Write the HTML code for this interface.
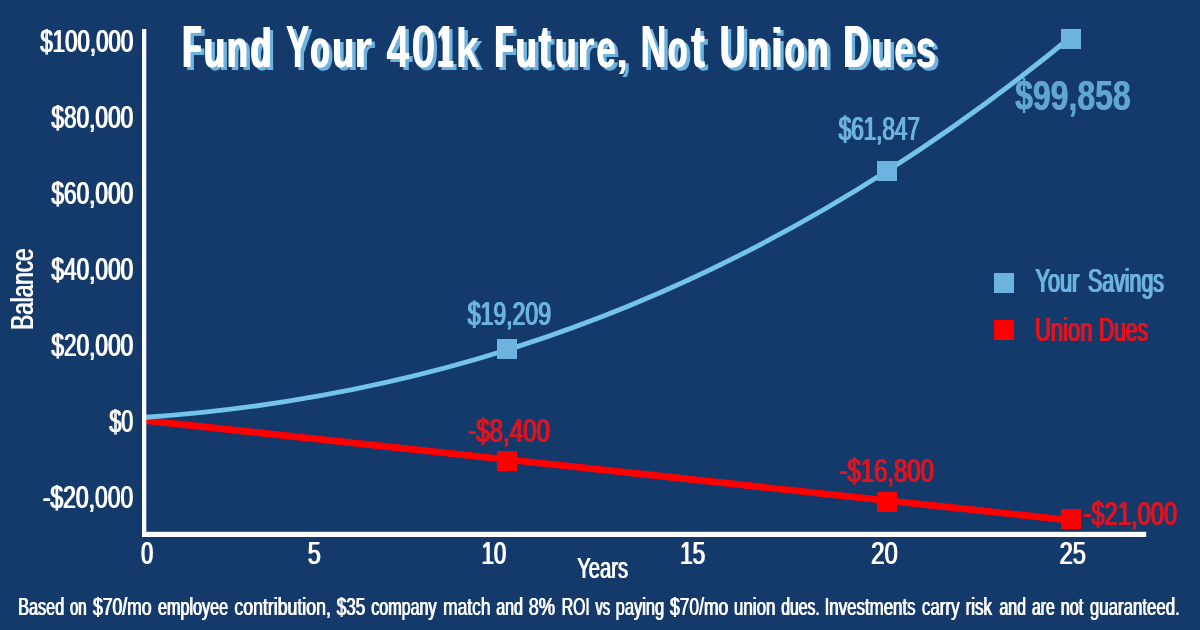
<!DOCTYPE html>
<html><head><meta charset="utf-8"><title>Fund Your 401k Future, Not Union Dues</title>
<style>
html,body{margin:0;padding:0;background:#14396B;}
body{width:1200px;height:630px;overflow:hidden;font-family:"Liberation Sans",sans-serif;}
svg{display:block;will-change:transform;}
text{font-family:"Liberation Sans",sans-serif;}
</style></head><body>
<svg width="1200" height="630" viewBox="0 0 1200 630">
<rect x="0" y="0" width="1200" height="630" fill="#14396B"/>
<!-- series lines -->
<line x1="146" y1="420.6" x2="1071" y2="520.4" stroke="#FF0000" stroke-width="6.8"/>
<path d="M146.0,417.3 C393.0,399.9 640.0,329.2 887.0,171.0 C950.3,130.7 1013.7,84.5 1077.0,32.0" fill="none" stroke="#74C3EB" stroke-width="4.9"/>
<!-- axes -->
<rect x="142" y="29" width="4.3" height="508" fill="#FFFFFF"/>
<rect x="142" y="531.8" width="1004.2" height="5.2" fill="#FFFFFF"/>
<!-- markers -->
<rect x="497.0" y="339.0" width="20" height="20" fill="#6CB3DF"/><rect x="877.0" y="161.0" width="20" height="20" fill="#6CB3DF"/><rect x="1061.0" y="29.0" width="20" height="20" fill="#6CB3DF"/>
<rect x="497.0" y="451.0" width="20" height="20" fill="#FF0000"/><rect x="877.0" y="492.0" width="20" height="20" fill="#FF0000"/><rect x="1061.0" y="509.0" width="20" height="20" fill="#FF0000"/>
<!-- legend markers -->
<rect x="994.0" y="273.0" width="20" height="20" fill="#6CB3DF"/><rect x="994.0" y="320.0" width="20" height="20" fill="#FF0000"/>
<!-- title -->
<text transform="translate(185.26,69.8) scale(0.5008,1)" font-size="58.9" font-weight="bold" fill="#6CB3DF">F</text><text transform="translate(187.65,69.8) scale(0.5008,1)" font-size="58.9" font-weight="bold" fill="#6CB3DF">F</text><text transform="translate(206.46,69.8) scale(0.5927,0.92)" font-size="58.9" font-weight="bold" fill="#6CB3DF">u</text><text transform="translate(208.01,69.8) scale(0.5927,0.92)" font-size="58.9" font-weight="bold" fill="#6CB3DF">u</text><text transform="translate(229.57,69.8) scale(0.5779,0.92)" font-size="58.9" font-weight="bold" fill="#6CB3DF">n</text><text transform="translate(231.25,69.8) scale(0.5779,0.92)" font-size="58.9" font-weight="bold" fill="#6CB3DF">n</text><text transform="translate(253.14,69.8) scale(0.5764,0.955)" font-size="58.9" font-weight="bold" fill="#6CB3DF">d</text><text transform="translate(254.83,69.8) scale(0.5764,0.955)" font-size="58.9" font-weight="bold" fill="#6CB3DF">d</text><text transform="translate(289.15,69.8) scale(0.5924,1)" font-size="58.9" font-weight="bold" fill="#6CB3DF">Y</text><text transform="translate(289.7,69.8) scale(0.5924,1)" font-size="58.9" font-weight="bold" fill="#6CB3DF">Y</text><text transform="translate(313.22,69.8) scale(0.5303,0.92)" font-size="58.9" font-weight="bold" fill="#6CB3DF">o</text><text transform="translate(314.54,69.8) scale(0.5303,0.92)" font-size="58.9" font-weight="bold" fill="#6CB3DF">o</text><text transform="translate(335.04,69.8) scale(0.6026,0.92)" font-size="58.9" font-weight="bold" fill="#6CB3DF">u</text><text transform="translate(336.49,69.8) scale(0.6026,0.92)" font-size="58.9" font-weight="bold" fill="#6CB3DF">u</text><text transform="translate(357.1,69.8) scale(0.8149,0.92)" font-size="58.9" font-weight="bold" fill="#6CB3DF">r</text><text transform="translate(389.7,69.8) scale(0.7063,1)" font-size="58.9" font-weight="bold" fill="#6CB3DF">4</text><text transform="translate(414.53,69.8) scale(0.7431,1)" font-size="58.9" font-weight="bold" fill="#6CB3DF">0</text><text transform="translate(440.1,69.8) scale(0.4346,1)" font-size="58.9" font-weight="bold" fill="#6CB3DF">1</text><text transform="translate(443.1,69.8) scale(0.4346,1)" font-size="58.9" font-weight="bold" fill="#6CB3DF">1</text><text transform="translate(459.02,69.8) scale(0.7267,0.955)" font-size="58.9" font-weight="bold" fill="#6CB3DF">k</text><text transform="translate(497.37,69.8) scale(0.4961,1)" font-size="58.9" font-weight="bold" fill="#6CB3DF">F</text><text transform="translate(499.81,69.8) scale(0.4961,1)" font-size="58.9" font-weight="bold" fill="#6CB3DF">F</text><text transform="translate(518.52,69.8) scale(0.5729,0.92)" font-size="58.9" font-weight="bold" fill="#6CB3DF">u</text><text transform="translate(520.25,69.8) scale(0.5729,0.92)" font-size="58.9" font-weight="bold" fill="#6CB3DF">u</text><text transform="translate(541.4,69.8) scale(0.6618,1.0)" font-size="58.9" font-weight="bold" fill="#6CB3DF">t</text><text transform="translate(542.31,69.8) scale(0.6618,1.0)" font-size="58.9" font-weight="bold" fill="#6CB3DF">t</text><text transform="translate(557.54,69.8) scale(0.6026,0.92)" font-size="58.9" font-weight="bold" fill="#6CB3DF">u</text><text transform="translate(558.99,69.8) scale(0.6026,0.92)" font-size="58.9" font-weight="bold" fill="#6CB3DF">u</text><text transform="translate(580.2,69.8) scale(0.7878,0.92)" font-size="58.9" font-weight="bold" fill="#6CB3DF">r</text><text transform="translate(599.3,69.8) scale(0.5976,0.92)" font-size="58.9" font-weight="bold" fill="#6CB3DF">e</text><text transform="translate(600.0,69.8) scale(0.5976,0.92)" font-size="58.9" font-weight="bold" fill="#6CB3DF">e</text><text transform="translate(619.26,69.8) scale(0.7715,0.75)" font-size="58.9" font-weight="bold" fill="#6CB3DF">,</text><text transform="translate(643.66,69.8) scale(0.6093,1)" font-size="58.9" font-weight="bold" fill="#6CB3DF">N</text><text transform="translate(644.05,69.8) scale(0.6093,1)" font-size="58.9" font-weight="bold" fill="#6CB3DF">N</text><text transform="translate(670.7,69.8) scale(0.5433,0.92)" font-size="58.9" font-weight="bold" fill="#6CB3DF">o</text><text transform="translate(671.9,69.8) scale(0.5433,0.92)" font-size="58.9" font-weight="bold" fill="#6CB3DF">o</text><text transform="translate(694.2,69.8) scale(0.7112,1.0)" font-size="58.9" font-weight="bold" fill="#6CB3DF">t</text><text transform="translate(694.65,69.8) scale(0.7112,1.0)" font-size="58.9" font-weight="bold" fill="#6CB3DF">t</text><text transform="translate(722.56,69.8) scale(0.594,1)" font-size="58.9" font-weight="bold" fill="#6CB3DF">U</text><text transform="translate(724.09,69.8) scale(0.594,1)" font-size="58.9" font-weight="bold" fill="#6CB3DF">U</text><text transform="translate(750.45,69.8) scale(0.5828,0.92)" font-size="58.9" font-weight="bold" fill="#6CB3DF">n</text><text transform="translate(752.09,69.8) scale(0.5828,0.92)" font-size="58.9" font-weight="bold" fill="#6CB3DF">n</text><text transform="translate(773.28,69.8) scale(0.8475,0.955)" font-size="58.9" font-weight="bold" fill="#6CB3DF">i</text><text transform="translate(787.36,69.8) scale(0.565,0.92)" font-size="58.9" font-weight="bold" fill="#6CB3DF">o</text><text transform="translate(788.36,69.8) scale(0.565,0.92)" font-size="58.9" font-weight="bold" fill="#6CB3DF">o</text><text transform="translate(809.48,69.8) scale(0.6026,0.92)" font-size="58.9" font-weight="bold" fill="#6CB3DF">n</text><text transform="translate(810.94,69.8) scale(0.6026,0.92)" font-size="58.9" font-weight="bold" fill="#6CB3DF">n</text><text transform="translate(846.23,69.8) scale(0.5904,1)" font-size="58.9" font-weight="bold" fill="#6CB3DF">D</text><text transform="translate(847.79,69.8) scale(0.5904,1)" font-size="58.9" font-weight="bold" fill="#6CB3DF">D</text><text transform="translate(874.36,69.8) scale(0.5581,0.92)" font-size="58.9" font-weight="bold" fill="#6CB3DF">u</text><text transform="translate(876.22,69.8) scale(0.5581,0.92)" font-size="58.9" font-weight="bold" fill="#6CB3DF">u</text><text transform="translate(897.3,69.8) scale(0.5976,0.92)" font-size="58.9" font-weight="bold" fill="#6CB3DF">e</text><text transform="translate(898.0,69.8) scale(0.5976,0.92)" font-size="58.9" font-weight="bold" fill="#6CB3DF">e</text><text transform="translate(918.95,69.8) scale(0.6261,0.92)" font-size="58.9" font-weight="bold" fill="#6CB3DF">s</text><text transform="translate(919.39,69.8) scale(0.6261,0.92)" font-size="58.9" font-weight="bold" fill="#6CB3DF">s</text>
<text transform="translate(181.86,66.8) scale(0.5008,1)" font-size="58.9" font-weight="bold" fill="#FFFFFF">F</text><text transform="translate(184.25,66.8) scale(0.5008,1)" font-size="58.9" font-weight="bold" fill="#FFFFFF">F</text><text transform="translate(203.06,66.8) scale(0.5927,0.92)" font-size="58.9" font-weight="bold" fill="#FFFFFF">u</text><text transform="translate(204.61,66.8) scale(0.5927,0.92)" font-size="58.9" font-weight="bold" fill="#FFFFFF">u</text><text transform="translate(226.17,66.8) scale(0.5779,0.92)" font-size="58.9" font-weight="bold" fill="#FFFFFF">n</text><text transform="translate(227.85,66.8) scale(0.5779,0.92)" font-size="58.9" font-weight="bold" fill="#FFFFFF">n</text><text transform="translate(249.74,66.8) scale(0.5764,0.955)" font-size="58.9" font-weight="bold" fill="#FFFFFF">d</text><text transform="translate(251.43,66.8) scale(0.5764,0.955)" font-size="58.9" font-weight="bold" fill="#FFFFFF">d</text><text transform="translate(285.75,66.8) scale(0.5924,1)" font-size="58.9" font-weight="bold" fill="#FFFFFF">Y</text><text transform="translate(286.3,66.8) scale(0.5924,1)" font-size="58.9" font-weight="bold" fill="#FFFFFF">Y</text><text transform="translate(309.82,66.8) scale(0.5303,0.92)" font-size="58.9" font-weight="bold" fill="#FFFFFF">o</text><text transform="translate(311.14,66.8) scale(0.5303,0.92)" font-size="58.9" font-weight="bold" fill="#FFFFFF">o</text><text transform="translate(331.64,66.8) scale(0.6026,0.92)" font-size="58.9" font-weight="bold" fill="#FFFFFF">u</text><text transform="translate(333.09,66.8) scale(0.6026,0.92)" font-size="58.9" font-weight="bold" fill="#FFFFFF">u</text><text transform="translate(353.7,66.8) scale(0.8149,0.92)" font-size="58.9" font-weight="bold" fill="#FFFFFF">r</text><text transform="translate(386.3,66.8) scale(0.7063,1)" font-size="58.9" font-weight="bold" fill="#FFFFFF">4</text><text transform="translate(411.13,66.8) scale(0.7431,1)" font-size="58.9" font-weight="bold" fill="#FFFFFF">0</text><text transform="translate(436.7,66.8) scale(0.4346,1)" font-size="58.9" font-weight="bold" fill="#FFFFFF">1</text><text transform="translate(439.7,66.8) scale(0.4346,1)" font-size="58.9" font-weight="bold" fill="#FFFFFF">1</text><text transform="translate(455.62,66.8) scale(0.7267,0.955)" font-size="58.9" font-weight="bold" fill="#FFFFFF">k</text><text transform="translate(493.97,66.8) scale(0.4961,1)" font-size="58.9" font-weight="bold" fill="#FFFFFF">F</text><text transform="translate(496.41,66.8) scale(0.4961,1)" font-size="58.9" font-weight="bold" fill="#FFFFFF">F</text><text transform="translate(515.12,66.8) scale(0.5729,0.92)" font-size="58.9" font-weight="bold" fill="#FFFFFF">u</text><text transform="translate(516.85,66.8) scale(0.5729,0.92)" font-size="58.9" font-weight="bold" fill="#FFFFFF">u</text><text transform="translate(538.0,66.8) scale(0.6618,1.0)" font-size="58.9" font-weight="bold" fill="#FFFFFF">t</text><text transform="translate(538.91,66.8) scale(0.6618,1.0)" font-size="58.9" font-weight="bold" fill="#FFFFFF">t</text><text transform="translate(554.14,66.8) scale(0.6026,0.92)" font-size="58.9" font-weight="bold" fill="#FFFFFF">u</text><text transform="translate(555.59,66.8) scale(0.6026,0.92)" font-size="58.9" font-weight="bold" fill="#FFFFFF">u</text><text transform="translate(576.8,66.8) scale(0.7878,0.92)" font-size="58.9" font-weight="bold" fill="#FFFFFF">r</text><text transform="translate(595.9,66.8) scale(0.5976,0.92)" font-size="58.9" font-weight="bold" fill="#FFFFFF">e</text><text transform="translate(596.6,66.8) scale(0.5976,0.92)" font-size="58.9" font-weight="bold" fill="#FFFFFF">e</text><text transform="translate(615.86,66.8) scale(0.7715,0.75)" font-size="58.9" font-weight="bold" fill="#FFFFFF">,</text><text transform="translate(640.26,66.8) scale(0.6093,1)" font-size="58.9" font-weight="bold" fill="#FFFFFF">N</text><text transform="translate(640.65,66.8) scale(0.6093,1)" font-size="58.9" font-weight="bold" fill="#FFFFFF">N</text><text transform="translate(667.3,66.8) scale(0.5433,0.92)" font-size="58.9" font-weight="bold" fill="#FFFFFF">o</text><text transform="translate(668.5,66.8) scale(0.5433,0.92)" font-size="58.9" font-weight="bold" fill="#FFFFFF">o</text><text transform="translate(690.8,66.8) scale(0.7112,1.0)" font-size="58.9" font-weight="bold" fill="#FFFFFF">t</text><text transform="translate(691.25,66.8) scale(0.7112,1.0)" font-size="58.9" font-weight="bold" fill="#FFFFFF">t</text><text transform="translate(719.16,66.8) scale(0.594,1)" font-size="58.9" font-weight="bold" fill="#FFFFFF">U</text><text transform="translate(720.69,66.8) scale(0.594,1)" font-size="58.9" font-weight="bold" fill="#FFFFFF">U</text><text transform="translate(747.05,66.8) scale(0.5828,0.92)" font-size="58.9" font-weight="bold" fill="#FFFFFF">n</text><text transform="translate(748.69,66.8) scale(0.5828,0.92)" font-size="58.9" font-weight="bold" fill="#FFFFFF">n</text><text transform="translate(769.88,66.8) scale(0.8475,0.955)" font-size="58.9" font-weight="bold" fill="#FFFFFF">i</text><text transform="translate(783.96,66.8) scale(0.565,0.92)" font-size="58.9" font-weight="bold" fill="#FFFFFF">o</text><text transform="translate(784.96,66.8) scale(0.565,0.92)" font-size="58.9" font-weight="bold" fill="#FFFFFF">o</text><text transform="translate(806.08,66.8) scale(0.6026,0.92)" font-size="58.9" font-weight="bold" fill="#FFFFFF">n</text><text transform="translate(807.54,66.8) scale(0.6026,0.92)" font-size="58.9" font-weight="bold" fill="#FFFFFF">n</text><text transform="translate(842.83,66.8) scale(0.5904,1)" font-size="58.9" font-weight="bold" fill="#FFFFFF">D</text><text transform="translate(844.39,66.8) scale(0.5904,1)" font-size="58.9" font-weight="bold" fill="#FFFFFF">D</text><text transform="translate(870.96,66.8) scale(0.5581,0.92)" font-size="58.9" font-weight="bold" fill="#FFFFFF">u</text><text transform="translate(872.82,66.8) scale(0.5581,0.92)" font-size="58.9" font-weight="bold" fill="#FFFFFF">u</text><text transform="translate(893.9,66.8) scale(0.5976,0.92)" font-size="58.9" font-weight="bold" fill="#FFFFFF">e</text><text transform="translate(894.6,66.8) scale(0.5976,0.92)" font-size="58.9" font-weight="bold" fill="#FFFFFF">e</text><text transform="translate(915.55,66.8) scale(0.6261,0.92)" font-size="58.9" font-weight="bold" fill="#FFFFFF">s</text><text transform="translate(915.99,66.8) scale(0.6261,0.92)" font-size="58.9" font-weight="bold" fill="#FFFFFF">s</text>
<!-- labels -->
<text x="39.7" y="52.1" font-size="30.5" fill="#FFFFFF" font-weight="normal" textLength="92.95" lengthAdjust="spacingAndGlyphs">$100,000</text>
<text x="40.9" y="52.1" font-size="30.5" fill="#FFFFFF" font-weight="normal" textLength="92.95" lengthAdjust="spacingAndGlyphs">$100,000</text>
<text x="50.8" y="128.4" font-size="30.5" fill="#FFFFFF" font-weight="normal" textLength="81.86" lengthAdjust="spacingAndGlyphs">$80,000</text>
<text x="52.0" y="128.4" font-size="30.5" fill="#FFFFFF" font-weight="normal" textLength="81.86" lengthAdjust="spacingAndGlyphs">$80,000</text>
<text x="50.8" y="204.2" font-size="30.5" fill="#FFFFFF" font-weight="normal" textLength="81.86" lengthAdjust="spacingAndGlyphs">$60,000</text>
<text x="52.0" y="204.2" font-size="30.5" fill="#FFFFFF" font-weight="normal" textLength="81.86" lengthAdjust="spacingAndGlyphs">$60,000</text>
<text x="50.8" y="280.2" font-size="30.5" fill="#FFFFFF" font-weight="normal" textLength="81.86" lengthAdjust="spacingAndGlyphs">$40,000</text>
<text x="52.0" y="280.2" font-size="30.5" fill="#FFFFFF" font-weight="normal" textLength="81.86" lengthAdjust="spacingAndGlyphs">$40,000</text>
<text x="50.8" y="356.1" font-size="30.5" fill="#FFFFFF" font-weight="normal" textLength="81.86" lengthAdjust="spacingAndGlyphs">$20,000</text>
<text x="52.0" y="356.1" font-size="30.5" fill="#FFFFFF" font-weight="normal" textLength="81.86" lengthAdjust="spacingAndGlyphs">$20,000</text>
<text x="108.7" y="432.1" font-size="30.5" fill="#FFFFFF" font-weight="normal" textLength="23.94" lengthAdjust="spacingAndGlyphs">$0</text>
<text x="109.9" y="432.1" font-size="30.5" fill="#FFFFFF" font-weight="normal" textLength="23.94" lengthAdjust="spacingAndGlyphs">$0</text>
<text x="42.18" y="508.1" font-size="30.5" fill="#FFFFFF" font-weight="normal" textLength="90.49" lengthAdjust="spacingAndGlyphs">-$20,000</text>
<text x="43.38" y="508.1" font-size="30.5" fill="#FFFFFF" font-weight="normal" textLength="90.49" lengthAdjust="spacingAndGlyphs">-$20,000</text>
<text x="140.53" y="564.2" font-size="32.2" fill="#FFFFFF" font-weight="normal" textLength="12.01" lengthAdjust="spacingAndGlyphs">0</text>
<text x="141.72" y="564.2" font-size="32.2" fill="#FFFFFF" font-weight="normal" textLength="12.01" lengthAdjust="spacingAndGlyphs">0</text>
<text x="307.28" y="564.2" font-size="32.2" fill="#FFFFFF" font-weight="normal" textLength="12.86" lengthAdjust="spacingAndGlyphs">5</text>
<text x="308.48" y="564.2" font-size="32.2" fill="#FFFFFF" font-weight="normal" textLength="12.86" lengthAdjust="spacingAndGlyphs">5</text>
<text x="481.02" y="564.2" font-size="32.2" fill="#FFFFFF" font-weight="normal" textLength="24.64" lengthAdjust="spacingAndGlyphs">10</text>
<text x="482.22" y="564.2" font-size="32.2" fill="#FFFFFF" font-weight="normal" textLength="24.64" lengthAdjust="spacingAndGlyphs">10</text>
<text x="679.49" y="564.2" font-size="32.2" fill="#FFFFFF" font-weight="normal" textLength="25.13" lengthAdjust="spacingAndGlyphs">15</text>
<text x="680.69" y="564.2" font-size="32.2" fill="#FFFFFF" font-weight="normal" textLength="25.13" lengthAdjust="spacingAndGlyphs">15</text>
<text x="870.58" y="564.2" font-size="32.2" fill="#FFFFFF" font-weight="normal" textLength="26.62" lengthAdjust="spacingAndGlyphs">20</text>
<text x="871.78" y="564.2" font-size="32.2" fill="#FFFFFF" font-weight="normal" textLength="26.62" lengthAdjust="spacingAndGlyphs">20</text>
<text x="1058.99" y="564.2" font-size="32.2" fill="#FFFFFF" font-weight="normal" textLength="26.37" lengthAdjust="spacingAndGlyphs">25</text>
<text x="1060.19" y="564.2" font-size="32.2" fill="#FFFFFF" font-weight="normal" textLength="26.37" lengthAdjust="spacingAndGlyphs">25</text>
<text x="576.68" y="578.3" font-size="29" fill="#FFFFFF" font-weight="normal" textLength="50.85" lengthAdjust="spacingAndGlyphs">Years</text>
<text x="577.78" y="578.3" font-size="29" fill="#FFFFFF" font-weight="normal" textLength="50.85" lengthAdjust="spacingAndGlyphs">Years</text>
<text x="467.0" y="325.3" font-size="33.5" fill="#6CB3DF" font-weight="normal" textLength="83.33" lengthAdjust="spacingAndGlyphs">$19,209</text>
<text x="467.7" y="325.3" font-size="33.5" fill="#6CB3DF" font-weight="normal" textLength="83.33" lengthAdjust="spacingAndGlyphs">$19,209</text>
<text x="468.4" y="325.3" font-size="33.5" fill="#6CB3DF" font-weight="normal" textLength="83.33" lengthAdjust="spacingAndGlyphs">$19,209</text>
<text x="838.0" y="139.9" font-size="33.5" fill="#6CB3DF" font-weight="normal" textLength="81.21" lengthAdjust="spacingAndGlyphs">$61,847</text>
<text x="838.7" y="139.9" font-size="33.5" fill="#6CB3DF" font-weight="normal" textLength="81.21" lengthAdjust="spacingAndGlyphs">$61,847</text>
<text x="839.4" y="139.9" font-size="33.5" fill="#6CB3DF" font-weight="normal" textLength="81.21" lengthAdjust="spacingAndGlyphs">$61,847</text>
<text x="1014.8" y="109.7" font-size="43" fill="#60A6D2" font-weight="bold" textLength="115.6" lengthAdjust="spacingAndGlyphs">$99,858</text>
<text x="1015.4" y="109.7" font-size="43" fill="#60A6D2" font-weight="bold" textLength="115.6" lengthAdjust="spacingAndGlyphs">$99,858</text>
<text x="467.55" y="442.3" font-size="33.5" fill="#DE1420" font-weight="normal" textLength="81.65" lengthAdjust="spacingAndGlyphs">-$8,400</text>
<text x="468.25" y="442.3" font-size="33.5" fill="#DE1420" font-weight="normal" textLength="81.65" lengthAdjust="spacingAndGlyphs">-$8,400</text>
<text x="468.95" y="442.3" font-size="33.5" fill="#DE1420" font-weight="normal" textLength="81.65" lengthAdjust="spacingAndGlyphs">-$8,400</text>
<text x="838.85" y="482.4" font-size="33.5" fill="#DE1420" font-weight="normal" textLength="94.34" lengthAdjust="spacingAndGlyphs">-$16,800</text>
<text x="839.55" y="482.4" font-size="33.5" fill="#DE1420" font-weight="normal" textLength="94.34" lengthAdjust="spacingAndGlyphs">-$16,800</text>
<text x="840.25" y="482.4" font-size="33.5" fill="#DE1420" font-weight="normal" textLength="94.34" lengthAdjust="spacingAndGlyphs">-$16,800</text>
<text x="1082.76" y="525.2" font-size="33.5" fill="#DE1420" font-weight="normal" textLength="93.63" lengthAdjust="spacingAndGlyphs">-$21,000</text>
<text x="1083.46" y="525.2" font-size="33.5" fill="#DE1420" font-weight="normal" textLength="93.63" lengthAdjust="spacingAndGlyphs">-$21,000</text>
<text x="1084.16" y="525.2" font-size="33.5" fill="#DE1420" font-weight="normal" textLength="93.63" lengthAdjust="spacingAndGlyphs">-$21,000</text>
<text x="1034.66" y="292.4" font-size="32.7" fill="#6CB3DF" font-weight="normal" textLength="43.95" lengthAdjust="spacingAndGlyphs">Your</text>
<text x="1035.41" y="292.4" font-size="32.7" fill="#6CB3DF" font-weight="normal" textLength="43.95" lengthAdjust="spacingAndGlyphs">Your</text>
<text x="1036.16" y="292.4" font-size="32.7" fill="#6CB3DF" font-weight="normal" textLength="43.95" lengthAdjust="spacingAndGlyphs">Your</text>
<text x="1087.33" y="292.4" font-size="32.7" fill="#6CB3DF" font-weight="normal" textLength="75.83" lengthAdjust="spacingAndGlyphs">Savings</text>
<text x="1088.08" y="292.4" font-size="32.7" fill="#6CB3DF" font-weight="normal" textLength="75.83" lengthAdjust="spacingAndGlyphs">Savings</text>
<text x="1088.83" y="292.4" font-size="32.7" fill="#6CB3DF" font-weight="normal" textLength="75.83" lengthAdjust="spacingAndGlyphs">Savings</text>
<text x="1034.22" y="341" font-size="32.7" fill="#DE1420" font-weight="normal" textLength="57.51" lengthAdjust="spacingAndGlyphs">Union</text>
<text x="1034.97" y="341" font-size="32.7" fill="#DE1420" font-weight="normal" textLength="57.51" lengthAdjust="spacingAndGlyphs">Union</text>
<text x="1035.72" y="341" font-size="32.7" fill="#DE1420" font-weight="normal" textLength="57.51" lengthAdjust="spacingAndGlyphs">Union</text>
<text x="1098.37" y="341" font-size="32.7" fill="#DE1420" font-weight="normal" textLength="48.79" lengthAdjust="spacingAndGlyphs">Dues</text>
<text x="1099.12" y="341" font-size="32.7" fill="#DE1420" font-weight="normal" textLength="48.79" lengthAdjust="spacingAndGlyphs">Dues</text>
<text x="1099.87" y="341" font-size="32.7" fill="#DE1420" font-weight="normal" textLength="48.79" lengthAdjust="spacingAndGlyphs">Dues</text>
<text x="17.73" y="615" font-size="24.8" fill="#FFFFFF" font-weight="normal" textLength="46.03" lengthAdjust="spacingAndGlyphs">Based</text>
<text x="18.63" y="615" font-size="24.8" fill="#FFFFFF" font-weight="normal" textLength="46.03" lengthAdjust="spacingAndGlyphs">Based</text>
<text x="69.53" y="615" font-size="24.8" fill="#FFFFFF" font-weight="normal" textLength="16.66" lengthAdjust="spacingAndGlyphs">on</text>
<text x="70.43" y="615" font-size="24.8" fill="#FFFFFF" font-weight="normal" textLength="16.66" lengthAdjust="spacingAndGlyphs">on</text>
<text x="92.5" y="615" font-size="24.8" fill="#FFFFFF" font-weight="normal" textLength="58.56" lengthAdjust="spacingAndGlyphs">$70/mo</text>
<text x="93.4" y="615" font-size="24.8" fill="#FFFFFF" font-weight="normal" textLength="58.56" lengthAdjust="spacingAndGlyphs">$70/mo</text>
<text x="157.49" y="615" font-size="24.8" fill="#FFFFFF" font-weight="normal" textLength="70.26" lengthAdjust="spacingAndGlyphs">employee</text>
<text x="158.39" y="615" font-size="24.8" fill="#FFFFFF" font-weight="normal" textLength="70.26" lengthAdjust="spacingAndGlyphs">employee</text>
<text x="233.95" y="615" font-size="24.8" fill="#FFFFFF" font-weight="normal" textLength="96.48" lengthAdjust="spacingAndGlyphs">contribution,</text>
<text x="234.85" y="615" font-size="24.8" fill="#FFFFFF" font-weight="normal" textLength="96.48" lengthAdjust="spacingAndGlyphs">contribution,</text>
<text x="336.25" y="615" font-size="24.8" fill="#FFFFFF" font-weight="normal" textLength="28.54" lengthAdjust="spacingAndGlyphs">$35</text>
<text x="337.15" y="615" font-size="24.8" fill="#FFFFFF" font-weight="normal" textLength="28.54" lengthAdjust="spacingAndGlyphs">$35</text>
<text x="370.75" y="615" font-size="24.8" fill="#FFFFFF" font-weight="normal" textLength="65.35" lengthAdjust="spacingAndGlyphs">company</text>
<text x="371.65" y="615" font-size="24.8" fill="#FFFFFF" font-weight="normal" textLength="65.35" lengthAdjust="spacingAndGlyphs">company</text>
<text x="442.66" y="615" font-size="24.8" fill="#FFFFFF" font-weight="normal" textLength="47.42" lengthAdjust="spacingAndGlyphs">match</text>
<text x="443.56" y="615" font-size="24.8" fill="#FFFFFF" font-weight="normal" textLength="47.42" lengthAdjust="spacingAndGlyphs">match</text>
<text x="495.75" y="615" font-size="24.8" fill="#FFFFFF" font-weight="normal" textLength="26.75" lengthAdjust="spacingAndGlyphs">and</text>
<text x="496.65" y="615" font-size="24.8" fill="#FFFFFF" font-weight="normal" textLength="26.75" lengthAdjust="spacingAndGlyphs">and</text>
<text x="528.18" y="615" font-size="24.8" fill="#FFFFFF" font-weight="normal" textLength="26.47" lengthAdjust="spacingAndGlyphs">8%</text>
<text x="529.08" y="615" font-size="24.8" fill="#FFFFFF" font-weight="normal" textLength="26.47" lengthAdjust="spacingAndGlyphs">8%</text>
<text x="561.27" y="615" font-size="24.8" fill="#FFFFFF" font-weight="normal" textLength="28.0" lengthAdjust="spacingAndGlyphs">ROI</text>
<text x="562.17" y="615" font-size="24.8" fill="#FFFFFF" font-weight="normal" textLength="28.0" lengthAdjust="spacingAndGlyphs">ROI</text>
<text x="595.0" y="615" font-size="24.8" fill="#FFFFFF" font-weight="normal" textLength="14.55" lengthAdjust="spacingAndGlyphs">vs</text>
<text x="595.9" y="615" font-size="24.8" fill="#FFFFFF" font-weight="normal" textLength="14.55" lengthAdjust="spacingAndGlyphs">vs</text>
<text x="615.22" y="615" font-size="24.8" fill="#FFFFFF" font-weight="normal" textLength="48.56" lengthAdjust="spacingAndGlyphs">paying</text>
<text x="616.12" y="615" font-size="24.8" fill="#FFFFFF" font-weight="normal" textLength="48.56" lengthAdjust="spacingAndGlyphs">paying</text>
<text x="669.5" y="615" font-size="24.8" fill="#FFFFFF" font-weight="normal" textLength="58.31" lengthAdjust="spacingAndGlyphs">$70/mo</text>
<text x="670.4" y="615" font-size="24.8" fill="#FFFFFF" font-weight="normal" textLength="58.31" lengthAdjust="spacingAndGlyphs">$70/mo</text>
<text x="733.44" y="615" font-size="24.8" fill="#FFFFFF" font-weight="normal" textLength="41.62" lengthAdjust="spacingAndGlyphs">union</text>
<text x="734.34" y="615" font-size="24.8" fill="#FFFFFF" font-weight="normal" textLength="41.62" lengthAdjust="spacingAndGlyphs">union</text>
<text x="780.76" y="615" font-size="24.8" fill="#FFFFFF" font-weight="normal" textLength="38.51" lengthAdjust="spacingAndGlyphs">dues.</text>
<text x="781.66" y="615" font-size="24.8" fill="#FFFFFF" font-weight="normal" textLength="38.51" lengthAdjust="spacingAndGlyphs">dues.</text>
<text x="824.18" y="615" font-size="24.8" fill="#FFFFFF" font-weight="normal" textLength="90.95" lengthAdjust="spacingAndGlyphs">Investments</text>
<text x="825.08" y="615" font-size="24.8" fill="#FFFFFF" font-weight="normal" textLength="90.95" lengthAdjust="spacingAndGlyphs">Investments</text>
<text x="921.47" y="615" font-size="24.8" fill="#FFFFFF" font-weight="normal" textLength="37.63" lengthAdjust="spacingAndGlyphs">carry</text>
<text x="922.37" y="615" font-size="24.8" fill="#FFFFFF" font-weight="normal" textLength="37.63" lengthAdjust="spacingAndGlyphs">carry</text>
<text x="965.19" y="615" font-size="24.8" fill="#FFFFFF" font-weight="normal" textLength="26.4" lengthAdjust="spacingAndGlyphs">risk</text>
<text x="966.09" y="615" font-size="24.8" fill="#FFFFFF" font-weight="normal" textLength="26.4" lengthAdjust="spacingAndGlyphs">risk</text>
<text x="999.0" y="615" font-size="24.8" fill="#FFFFFF" font-weight="normal" textLength="26.49" lengthAdjust="spacingAndGlyphs">and</text>
<text x="999.9" y="615" font-size="24.8" fill="#FFFFFF" font-weight="normal" textLength="26.49" lengthAdjust="spacingAndGlyphs">and</text>
<text x="1031.51" y="615" font-size="24.8" fill="#FFFFFF" font-weight="normal" textLength="22.73" lengthAdjust="spacingAndGlyphs">are</text>
<text x="1032.41" y="615" font-size="24.8" fill="#FFFFFF" font-weight="normal" textLength="22.73" lengthAdjust="spacingAndGlyphs">are</text>
<text x="1060.24" y="615" font-size="24.8" fill="#FFFFFF" font-weight="normal" textLength="22.56" lengthAdjust="spacingAndGlyphs">not</text>
<text x="1061.14" y="615" font-size="24.8" fill="#FFFFFF" font-weight="normal" textLength="22.56" lengthAdjust="spacingAndGlyphs">not</text>
<text x="1089.47" y="615" font-size="24.8" fill="#FFFFFF" font-weight="normal" textLength="89.9" lengthAdjust="spacingAndGlyphs">guaranteed.</text>
<text x="1090.37" y="615" font-size="24.8" fill="#FFFFFF" font-weight="normal" textLength="89.9" lengthAdjust="spacingAndGlyphs">guaranteed.</text>
<g transform="translate(33.4,328.5) rotate(-90)"><text x="-1.75" y="0" font-size="31.8" fill="#FFFFFF" font-weight="normal" textLength="81.16" lengthAdjust="spacingAndGlyphs">Balance</text><text x="-0.75" y="0" font-size="31.8" fill="#FFFFFF" font-weight="normal" textLength="81.16" lengthAdjust="spacingAndGlyphs">Balance</text></g>
</svg>
</body></html>
